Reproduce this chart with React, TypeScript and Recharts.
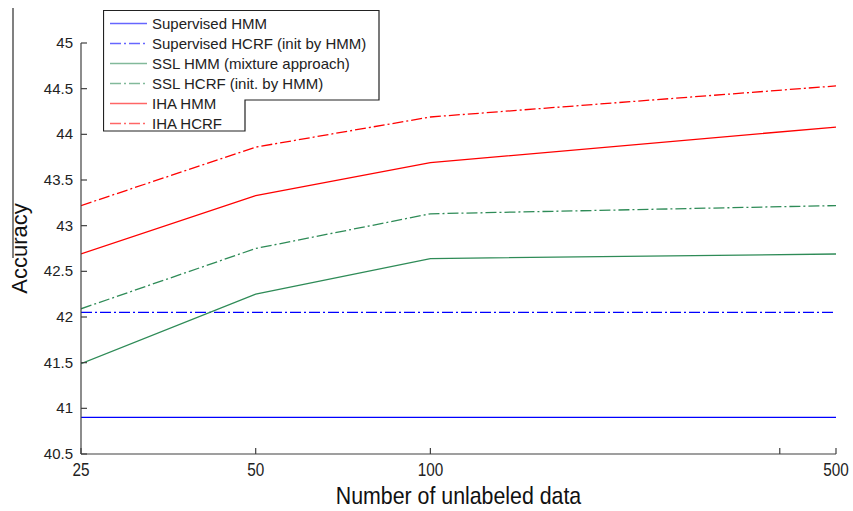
import React from 'react';
import { LineChart, Line, XAxis, YAxis, Legend } from 'recharts';

// values (accuracy, %)
const unlabeled = [25, 50, 100, 500];
const supervisedHmm = [40.9, 40.9, 40.9, 40.9];
const supervisedHcrf = [42.05, 42.05, 42.05, 42.05];
const sslHmm = [41.49, 42.25, 42.64, 42.69];
const sslHcrf = [42.09, 42.75, 43.13, 43.22];
const ihaHmm = [42.69, 43.33, 43.69, 44.08];
const ihaHcrf = [43.22, 43.86, 44.19, 44.53];

const xTicks = [25, 50, 100, 400, 500];
const xTickLabels = ['25', '50', '100', '', '500'];
const yTicks = [40.5, 41, 41.5, 42, 42.5, 43, 43.5, 44, 44.5, 45];

const BLUE = '#0000ff';
const GREEN = '#2e8b57';
const RED = '#ff0000';
const DASHDOT = '11 3 2 3';
const AXIS = '#404040';
const FONT = '"Liberation Sans", Arial, sans-serif';

const series = [
  { key: 'supHmm', name: 'Supervised HMM', color: BLUE, dash: undefined, values: supervisedHmm },
  { key: 'supHcrf', name: 'Supervised HCRF (init by HMM)', color: BLUE, dash: DASHDOT, values: supervisedHcrf },
  { key: 'sslHmm', name: 'SSL HMM (mixture approach)', color: GREEN, dash: undefined, values: sslHmm },
  { key: 'sslHcrf', name: 'SSL HCRF (init. by HMM)', color: GREEN, dash: DASHDOT, values: sslHcrf },
  { key: 'ihaHmm', name: 'IHA HMM', color: RED, dash: undefined, values: ihaHmm },
  { key: 'ihaHcrf', name: 'IHA HCRF', color: RED, dash: DASHDOT, values: ihaHcrf },
];

const data = unlabeled.map((n, i) => {
  const row: Record<string, number> = { n };
  series.forEach((s) => { row[s.key] = s.values[i]; });
  return row;
});

// MATLAB-style inward ticks
const BottomTick = ({ x, y, payload }: any) => {
  const label = xTickLabels[xTicks.indexOf(payload.value)];
  return (
    <g>
      <line x1={x} x2={x} y1={y} y2={y - 6} stroke={AXIS} strokeWidth={1.2} />
      {label && (
        <text transform={`translate(${x},${y + 22}) scale(0.85,1)`} textAnchor="middle"
          fontFamily={FONT} fontSize={18} fill="#222">{label}</text>
      )}
    </g>
  );
};
const TopTick = ({ x, y }: any) => (
  <line x1={x} x2={x} y1={y} y2={y + 6} stroke={AXIS} strokeWidth={1.2} />
);
const LeftTick = ({ x, y, payload }: any) => (
  <g>
    <line x1={x} x2={x + 6} y1={y} y2={y} stroke={AXIS} strokeWidth={1.2} />
    <text x={x - 8} y={y} dy={5} textAnchor="end" fontFamily={FONT} fontSize={15} fill="#222">
      {payload.value}
    </text>
  </g>
);
const RightTick = ({ x, y }: any) => (
  <line x1={x} x2={x - 6} y1={y} y2={y} stroke={AXIS} strokeWidth={1.2} />
);

const LegendBox = () => (
  <svg width={280} height={124} style={{ display: 'block' }}>
    <path d="M0.5,0.5 H276 V90 H142 V121 H0.5 Z" fill="#fff" stroke="#222" strokeWidth={1.2} />
    {series.map((s, i) => {
      const cy = 13.5 + i * 20;
      return (
        <g key={s.key}>
          <path d={`M7,${cy} H44`} style={{ stroke: s.color, strokeWidth: 1.5, strokeOpacity: 0.6, fill: 'none' }}
            strokeDasharray={s.dash} />
          <text x={49} y={cy + 5.5} fontFamily={FONT} fontSize={15} fill="#222">{s.name}</text>
        </g>
      );
    })}
  </svg>
);

export default function App() {
  return (
    <div style={{ position: 'absolute', left: 0, top: 0, width: 853, height: 511, background: '#fff' }}>
      <div style={{ position: 'absolute', left: 12, top: 8, width: 2, height: 250, background: '#808080' }} />
      <LineChart width={853} height={511} data={data}
        margin={{ top: 43, right: 17, bottom: 17, left: 21 }}>
        <XAxis dataKey="n" type="number" scale="log" domain={[25, 500]} ticks={xTicks}
          allowDataOverflow height={40} tickSize={0} tickMargin={0} tickLine={false}
          axisLine={{ stroke: AXIS, strokeWidth: 1.2 }} tick={<BottomTick />} interval={0}
          label={{
            content: ({ viewBox }: any) => (
              <text transform={`translate(${viewBox.x + viewBox.width / 2},${viewBox.y + 50}) scale(0.97,1.1)`}
                textAnchor="middle" fontFamily={FONT} fontSize={22} fill="#111">Number of unlabeled data</text>
            ),
          }} />
        <XAxis xAxisId="top" orientation="top" dataKey="n" type="number" scale="log"
          domain={[25, 500]} ticks={xTicks} allowDataOverflow height={0} tickSize={0}
          tickMargin={0} tickLine={false} axisLine={{ stroke: AXIS, strokeWidth: 1.2 }}
          tick={<TopTick />} interval={0} />
        <YAxis type="number" domain={[40.5, 45]} ticks={yTicks} allowDataOverflow width={60}
          tickSize={0} tickMargin={0} tickLine={false} interval={0}
          axisLine={{ stroke: AXIS, strokeWidth: 1.2 }} tick={<LeftTick />}
          label={{
            content: ({ viewBox }: any) => {
              const cx = viewBox.x + 6;
              const cy = viewBox.y + viewBox.height / 2;
              return (
                <text x={cx} y={cy} transform={`rotate(-90, ${cx}, ${cy})`} textAnchor="middle"
                  fontFamily={FONT} fontSize={22} fill="#111">Accuracy</text>
              );
            },
          }} />
        <YAxis yAxisId="right" orientation="right" type="number" domain={[40.5, 45]}
          ticks={yTicks} allowDataOverflow width={0} tickSize={0} tickMargin={0}
          tickLine={false} interval={0} axisLine={{ stroke: AXIS, strokeWidth: 1.2 }}
          tick={<RightTick />} />
        {series.map((s) => (
          <Line key={s.key} dataKey={s.key} name={s.name} type="linear" stroke={s.color}
            strokeWidth={1.3} strokeDasharray={s.dash} dot={false} activeDot={false}
            isAnimationActive={false} />
        ))}
        <Legend layout="horizontal" verticalAlign="middle" align="center" content={<LegendBox />}
          wrapperStyle={{ left: 103, top: 10, width: 280, height: 124 }} />
      </LineChart>
    </div>
  );
}
